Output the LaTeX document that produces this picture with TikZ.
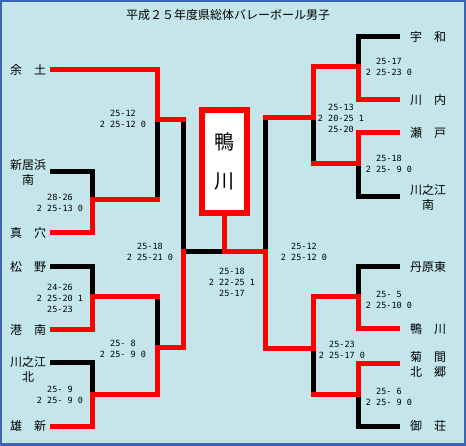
\documentclass[tikz,border=0pt]{standalone}
\usepackage{fontspec}
\newfontfamily\jpfont{Noto Sans CJK JP}
\newfontfamily\scorefont{DejaVu Sans Mono}
\usetikzlibrary{positioning,calc}
\definecolor{bgcyan}{RGB}{196,230,234}
\definecolor{frameblue}{RGB}{58,100,180}
\newcommand{\gap}{\phantom{0}}
\tikzset{
  team/.style={font=\jpfont\fontsize{12}{15}\selectfont, align=center, inner sep=0pt, text width=36pt},
  score/.style={font=\scorefont\fontsize{8.5}{11}\selectfont, align=center, inner sep=0pt},
  lost/.style={line width=5pt, line cap=rect, black},
  won/.style={line width=5pt, line cap=rect, red},
}
\begin{document}
\begin{tikzpicture}[x=1pt, y=-1pt]
    % Frame
    \fill[bgcyan] (0,0) rectangle (466,446);
    \draw[frameblue, line width=2pt] (1,1) rectangle (465,445);
    \fill[frameblue] (0,443) rectangle (466,446);
    \useasboundingbox (0,0) rectangle (466,446);
    \node[font=\jpfont\fontsize{12}{15}\selectfont] (title) at (228,15) {平成２５年度県総体バレーボール男子};

    % Teams
    \foreach \nm/\x/\y/\txt in {yodo/28/70/{余　土}, niihama/28/172/{新居浜\\南}, maana/28/233/{真　穴},
        matsuno/28/267/{松　野}, konan/28/330/{港　南}, kawanoekita/28/369/{川之江\\北}, yushin/28/426/{雄　新},
        uwa/428/37/{宇　和}, kawauchi/428/100/{川　内}, seto/428/133/{瀬　戸}, kawanoeminami/428/197/{川之江\\南},
        tanbara/428/267/{丹原東}, kamogawa/428/329/{鴨　川}, kikuma/428/364/{菊　間\\北　郷}, misho/428/426/{御　荘}} {
        \node[team] (\nm) at (\x,\y) {\txt};
    }

    % Champion
    \node[draw=red, line width=6pt, fill=white, minimum width=45pt, minimum height=103pt, inner sep=0pt,
        align=center, font=\jpfont\fontsize{20}{39}\selectfont] (champ) at (224.5,161.5) {鴨\\川};

    % Scores
    \foreach \n/\x/\y/\txt in {1/123/119/{25-12\\2\gap25-12\gap0}, 2/60/203/{28-26\\2\gap25-13\gap0},
        3/60/298/{24-26\\2\gap25-20\gap1\\25-23}, 4/60/395/{25-\gap9\\2\gap25-\gap9\gap0},
        5/123/349/{25-\gap8\\2\gap25-\gap9\gap0}, 6/150/252/{25-18\\2\gap25-21\gap0},
        7/232/282/{25-18\\2\gap22-25\gap1\\25-17}, 8/304/252/{25-12\\2\gap25-12\gap0},
        9/389/67/{25-17\\2\gap25-23\gap0}, 10/341/118/{25-13\\2\gap20-25\gap1\\25-20},
        11/389/164/{25-18\\2\gap25-\gap9\gap0}, 12/389/300/{25-\gap5\\2\gap25-10\gap0},
        13/342/350/{25-23\\2\gap25-17\gap0}, 14/389/397/{25-\gap6\\2\gap25-\gap9\gap0}} {
        \node[score] (s\n) at (\x,\y) {\txt};
    }

    % Joints
    \coordinate (l1) at (92,200);
    \coordinate (l2) at (92,297);
    \coordinate (l3) at (92,394);
    \coordinate (l4) at (157,120);
    \coordinate (l5) at (157,348);
    \coordinate (l6) at (183,252);
    \coordinate (r1) at (358,67);
    \coordinate (r2) at (358,164);
    \coordinate (r3) at (358,297);
    \coordinate (r4) at (358,394);
    \coordinate (r5) at (313,118);
    \coordinate (r6) at (313,349);
    \coordinate (r7) at (265,252);
    \coordinate (fin) at (champ.south |- l6);

    % Left half
    \draw[lost] ([xshift=6.5pt]niihama.east) -| (l1);
    \draw[lost] (l1 -| l4) -- (l4);
    \draw[lost] (l4 -| l6) -- (l6);
    \draw[lost] ([xshift=6.5pt]matsuno.east) -| (l2);
    \draw[lost] (l2 -| l5) -- (l5);
    \draw[lost] ([xshift=6.5pt,yshift=6pt]kawanoekita.east) -| (l3);
    \draw[lost] (l6) -- (fin);
    \draw[won] ([xshift=6.5pt]maana.east) -| (l1) -- (l1 -| l4);
    \draw[won] ([xshift=6.5pt]yodo.east) -| (l4) -- (l4 -| l6);
    \draw[won] ([xshift=6.5pt]konan.east) -| (l2) -- (l2 -| l5);
    \draw[won] ([xshift=6.5pt]yushin.east) -| (l3) -- (l3 -| l5) -- (l5) -- (l5 -| l6) -- (l6);

    % Right half
    \draw[lost] ([xshift=-12.5pt]uwa.west) -| (r1);
    \draw[lost] ([xshift=-12.5pt]kawanoeminami.west) -| (r2);
    \draw[lost] (r2 -| r5) -- (r5);
    \draw[lost] (r5 -| r7) -- (r7);
    \draw[lost] ([xshift=-12.5pt]tanbara.west) -| (r3);
    \draw[lost] ([xshift=-12.5pt]misho.west) -| (r4);
    \draw[lost] (r4 -| r6) -- (r6);
    \draw[won] ([xshift=-12.5pt]kawauchi.west) -| (r1) -- (r1 -| r5) -- (r5) -- (r5 -| r7);
    \draw[won] ([xshift=-12.5pt]seto.west) -| (r2) -- (r2 -| r5);
    \draw[won] ([xshift=-12.5pt]kikuma.west) -| (r4) -- (r4 -| r6);
    \draw[won] ([xshift=-12.5pt]kamogawa.west) -| (r3) -- (r3 -| r6) -- (r6) -- (r6 -| r7) -- (r7) -- (fin) -- (champ.south);
\end{tikzpicture}
\end{document}
